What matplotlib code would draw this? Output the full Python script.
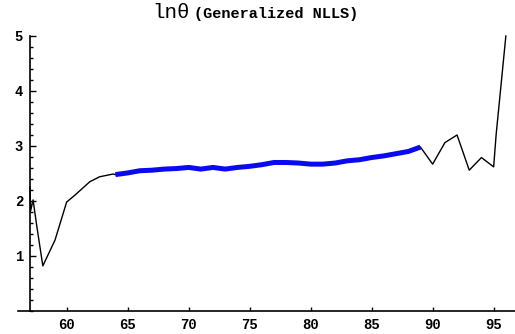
import matplotlib
matplotlib.use("Agg")
from matplotlib import pyplot as plt
from matplotlib.ticker import MultipleLocator

# black (unsmoothed) segments
age_left = [57, 57.05, 57.25, 57.55, 58.05, 59.05, 60, 60.7, 61.9, 62.7, 63.8, 64]
ln_left = [2.25, 1.82, 2.02, 1.55, 0.82, 1.29, 1.98, 2.11, 2.35, 2.44, 2.49, 2.48]

age_right = [89, 90, 91, 92, 93, 94, 95, 95.2, 96]
ln_right = [2.98, 2.67, 3.06, 3.2, 2.56, 2.79, 2.62, 3.2, 5.0]

# blue (fitted) segment
age_mid = list(range(64, 90))
ln_mid = [2.48, 2.51, 2.55, 2.56, 2.58, 2.59, 2.61, 2.58, 2.61, 2.58, 2.61, 2.63,
          2.66, 2.70, 2.70, 2.69, 2.67, 2.67, 2.69, 2.73, 2.75, 2.79, 2.82, 2.86,
          2.90, 2.98]

plt.rcParams['font.family'] = ['Liberation Mono', 'DejaVu Sans Mono']

fig = plt.figure(figsize=(5.15, 3.34), dpi=100)
ax = fig.add_axes([0.0346, 0.0689, 0.9666, 0.8316])

ax.plot(age_left, ln_left, '-', color='black', lw=1.0)
ax.plot(age_right, ln_right, '-', color='black', lw=1.0)
ax.plot(age_mid, ln_mid, '-', color='#0a0af0', lw=3.6, solid_capstyle='butt')

ax.set_xlim(56.0, 96.8)
ax.set_ylim(0, 5.05)

ax.spines['top'].set_visible(False)
ax.spines['right'].set_visible(False)
ax.spines['left'].set_position(('data', 57))
ax.spines['left'].set_bounds(0, 5)
ax.spines['bottom'].set_position(('data', 0))
ax.spines['left'].set_linewidth(1.2)
ax.spines['bottom'].set_linewidth(1.2)

ax.set_xticks([60, 65, 70, 75, 80, 85, 90, 95])
ax.set_yticks([1, 2, 3, 4, 5])
ax.yaxis.set_minor_locator(MultipleLocator(0.2))

ax.tick_params(axis='x', direction='in', length=3, width=1, labelsize=10, pad=5)
ax.tick_params(axis='y', which='major', direction='in', length=4, width=1, labelsize=10, pad=5)
ax.tick_params(axis='y', which='minor', direction='in', length=2.5, width=1)
for lbl in ax.get_xticklabels() + ax.get_yticklabels():
    lbl.set_fontweight('bold')

fig.text(190 / 515, 1 - 13 / 334, "ln\u03b8", ha='right', va='center', fontsize=15)
fig.text(194 / 515, 1 - 14 / 334, "(Generalized NLLS)", ha='left', va='center',
         fontsize=11, fontweight='bold')

plt.savefig("out.png", dpi=100)
